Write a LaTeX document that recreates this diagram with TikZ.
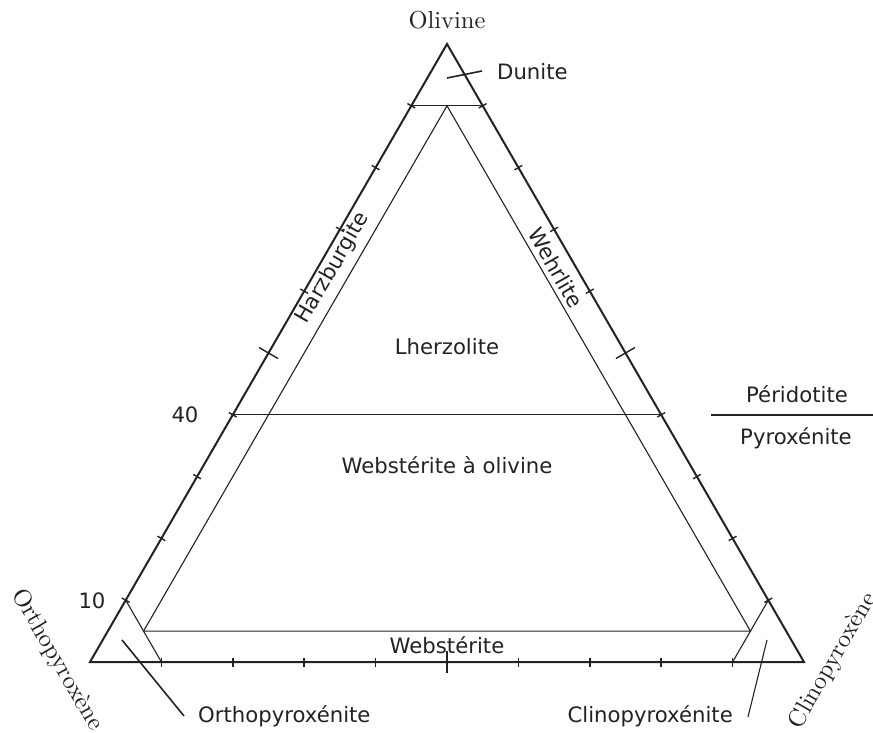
\documentclass[tikz,border=0pt]{standalone}
\usepackage{fontspec}
\newfontfamily\dvs{DejaVu Sans}
\usetikzlibrary{calc}
\definecolor{ink}{RGB}{34,34,34}
\newcommand{\serifbig}[1]{\scalebox{2.45}{\fontsize{10}{12}\selectfont #1}}
\tikzset{
  outer/.style={draw=ink, line width=2pt, line join=miter},
  inner/.style={draw=ink, line width=1.1pt},
  tickln/.style={draw=ink, line width=1.4pt},
  lead/.style={draw=ink, line width=1.6pt},
  lbl/.style={text=ink, font=\dvs\fontsize{21.2}{25}\selectfont, inner sep=0pt},
  slbl/.style={text=ink, inner sep=0pt},
}
\begin{document}
\begin{tikzpicture}[x=1pt,y=-1pt]
\useasboundingbox (0,0) rectangle (873,733);
\coordinate (A) at (447,44);
\coordinate (L) at (90,662);
\coordinate (R) at (804,662);
% outer triangle
\draw[outer] (A) -- (L) -- (R) -- cycle;
% inner lines
\coordinate (d1) at (barycentric cs:A=0.9,L=0.1,R=0);
\coordinate (d2) at (barycentric cs:A=0.9,L=0,R=0.1);
\coordinate (iA) at (barycentric cs:A=0.9,L=0.05,R=0.05);
\coordinate (iL) at (barycentric cs:A=0.05,L=0.9,R=0.05);
\coordinate (iR) at (barycentric cs:A=0.05,L=0.05,R=0.9);
\coordinate (f1) at (barycentric cs:A=0.4,L=0.6,R=0);
\coordinate (f2) at (barycentric cs:A=0.4,L=0,R=0.6);
\coordinate (o1) at (barycentric cs:A=0.1,L=0.9,R=0);
\coordinate (o2) at (barycentric cs:A=0,L=0.9,R=0.1);
\coordinate (c1) at (barycentric cs:A=0.1,L=0,R=0.9);
\coordinate (c2) at (barycentric cs:A=0,L=0.1,R=0.9);
\draw[inner] (d1) -- (d2);
\draw[inner] (iL) -- (iA) -- (iR) -- cycle;
\draw[inner] (f1) -- (f2);
\draw[inner] (o1) -- (o2);
\draw[inner] (c1) -- (c2);
% ticks
\foreach \i in {1,...,9}{
  \pgfmathsetmacro{\t}{\i/10}
  \pgfmathsetmacro{\s}{1-\i/10}
  \pgfmathsetmacro{\h}{ifthenelse(\i==5,11,4.5)}
  \coordinate (tl) at (barycentric cs:A=\t,L=\s,R=0);
  \coordinate (tr) at (barycentric cs:A=\t,L=0,R=\s);
  \coordinate (tb) at (barycentric cs:A=0,L=\s,R=\t);
  \draw[tickln] ($(tl)!\h pt!90:(A)$) -- ($(tl)!\h pt!-90:(A)$);
  \draw[tickln] ($(tr)!\h pt!90:(A)$) -- ($(tr)!\h pt!-90:(A)$);
  \draw[tickln] ($(tb)!\h pt!90:(R)$) -- ($(tb)!\h pt!-90:(R)$);
}
% corner labels
\node[slbl] (ol) at (447,20) {\serifbig{Olivine}};
\node[slbl, rotate=-60] (opx) at (57,660) {\serifbig{Orthopyroxène}};
\node[slbl, rotate=60] (cpx) at (833,661) {\serifbig{Clinopyroxène}};
% field labels
\node[lbl] (lh) at (447,347) {Lherzolite};
\node[lbl] (wo) at (447,465) {Webstérite à olivine};
\node[lbl] (ws) at (447,645) {Webstérite};
\node[lbl, rotate=60] (hz) at (333,268) {Harzburgite};
\node[lbl, rotate=-60] (wh) at (556,268) {Wehrlite};
\node[lbl] (n40) at (185,415) {40};
\node[lbl] (n10) at (92,601) {10};
\node[lbl] (pe) at (797,394) {Péridotite};
\node[lbl] (py) at (796,438) {Pyroxénite};
\coordinate (sepL) at (711,415);
\coordinate (sepR) at (873,415);
\draw[lead] (sepL) -- (sepR);
% leader labels
\node[lbl, anchor=west] (du) at (497,72) {Dunite};
\node[lbl, anchor=west] (ox) at (198,716) {Orthopyroxénite};
\node[lbl, anchor=east] (cx) at (733,716) {Clinopyroxénite};
\coordinate (duin) at (447,78);
\coordinate (duout) at (482,71);
\coordinate (oxin) at (122,640);
\coordinate (oxout) at (184,716);
\coordinate (cxin) at (767,640);
\coordinate (cxout) at (748,717);
\draw[lead] (duin) -- (duout);
\draw[lead] (oxin) -- (oxout);
\draw[inner] (cxin) -- (cxout);
\end{tikzpicture}
\end{document}
